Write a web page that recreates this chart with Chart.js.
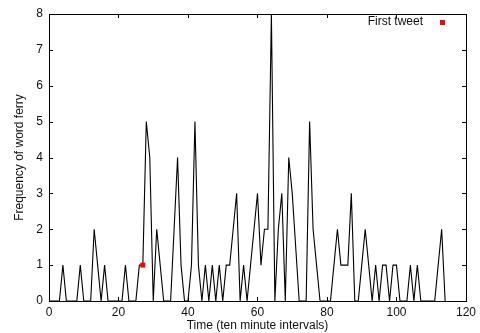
<!DOCTYPE html>
<html>
<head>
<meta charset="utf-8">
<script src="https://cdn.jsdelivr.net/npm/chart.js@4/dist/chart.umd.min.js"></script>
<style>
html,body{margin:0;padding:0;background:#fff;}
canvas{display:block;}
</style>
</head>
<body>
<canvas id="c" width="480" height="333"></canvas>
<script>
// ---- data ----
const timeSteps = [
  0,1,2,3,4,5,6,7,8,9,10,11,12,13,14,15,16,17,18,19,
  20,21,22,23,24,25,26,27,28,29,30,31,32,33,34,35,36,37,38,39,
  40,41,42,43,44,45,46,47,48,49,50,51,52,53,54,55,56,57,58,59,
  60,61,62,63,64,65,66,67,68,69,70,71,72,73,74,75,76,77,78,79,
  80,81,82,83,84,85,86,87,88,89,90,91,92,93,94,95,96,97,98,99,
  100,101,102,103,104,105,106,107,108,109,110,111,112,113,114
];
const ferryFrequency = [
  0,0,0,0,1,0,0,0,0,1,0,0,0,2,1,0,1,0,0,0,
  0,0,1,0,0,0,1,1,5,4,0,2,1,0,0,0,2,4,1,0,
  0,1,5,1,0,1,0,1,0,1,0,1,1,2,3,0,1,0,1,2,
  3,1,2,2,8,0,2,3,0,4,3,1.5,0,0,0,5,2,1,0,0,
  0,0,1,2,1,1,1,3,0,0,1,2,1,0,1,0,1,1,0,1,
  1,0,0,0,1,0,1,0,0,0,0,0,1,2,0
];
const firstTweetTime = [27];
const firstTweetFreq = [1];
const xTickValues = [0,20,40,60,80,100,120];
const yTickValues = [0,1,2,3,4,5,6,7,8];
const seriesLabel = 'Frequency of word ferry';
const markerLabel = 'First tweet';

const FONT = 'Liberation Sans, Arial, Helvetica, sans-serif';
const TEXT = '#111';

const lineData = timeSteps.map((t, i) => ({x: t, y: ferryFrequency[i]}));
const markerData = firstTweetTime.map((t, i) => ({x: t, y: firstTweetFreq[i]}));

// frame with inward ticks on all four sides
const framePlugin = {
  id: 'frame',
  afterDraw(chart) {
    const {ctx, chartArea: a, scales: {x, y}} = chart;
    const L = 4;
    ctx.save();
    ctx.strokeStyle = '#000';
    ctx.lineWidth = 1;
    ctx.beginPath();
    xTickValues.forEach(v => {
      const px = Math.round(x.getPixelForValue(v)) + 0.5;
      ctx.moveTo(px, a.bottom); ctx.lineTo(px, a.bottom - L);
      ctx.moveTo(px, a.top); ctx.lineTo(px, a.top + L);
    });
    yTickValues.forEach(v => {
      const py = Math.round(y.getPixelForValue(v)) + 0.5;
      ctx.moveTo(a.left, py); ctx.lineTo(a.left + L, py);
      ctx.moveTo(a.right, py); ctx.lineTo(a.right - L, py);
    });
    ctx.stroke();
    ctx.strokeRect(Math.round(a.left) + 0.5, Math.round(a.top) + 0.5,
                   Math.round(a.right - a.left), Math.round(a.bottom - a.top));
    ctx.restore();
  }
};

// gnuplot-style key: text then sample, in the top-right of the plot
const keyPlugin = {
  id: 'gkey',
  afterDraw(chart) {
    const {ctx, chartArea: a} = chart;
    const ds = chart.data.datasets[1];
    ctx.save();
    ctx.font = '12px ' + FONT;
    ctx.fillStyle = TEXT;
    ctx.textAlign = 'right';
    ctx.textBaseline = 'middle';
    const ky = a.top + 8;
    ctx.fillText(ds.label, a.right - 43, ky);
    ctx.fillStyle = ds.backgroundColor;
    ctx.fillRect(a.right - 26, ky - 2, 5, 5);
    ctx.restore();
  }
};

new Chart(document.getElementById('c'), {
  type: 'line',
  data: {
    datasets: [
      {
        label: seriesLabel,
        data: lineData,
        borderColor: '#000',
        borderWidth: 1.1,
        pointRadius: 0,
        tension: 0,
        fill: false,
        order: 2
      },
      {
        type: 'scatter',
        label: markerLabel,
        data: markerData,
        backgroundColor: '#ff0000',
        borderColor: '#ff0000',
        borderWidth: 0,
        pointStyle: 'rect',
        pointRadius: 3.5,
        order: 1
      }
    ]
  },
  options: {
    responsive: false,
    animation: false,
    devicePixelRatio: 1,
    layout: {padding: {left: 0, right: 13, top: 14, bottom: 0}},
    plugins: {
      legend: {display: false},
      tooltip: {enabled: false}
    },
    scales: {
      x: {
        type: 'linear',
        min: 0, max: 120,
        afterBuildTicks: s => { s.ticks = xTickValues.map(v => ({value: v})); },
        afterFit: s => { s.height = 32; },
        grid: {display: false, drawTicks: false},
        border: {display: false},
        ticks: {padding: 4, color: TEXT, font: {family: FONT, size: 12}, maxRotation: 0},
        title: {display: true, text: 'Time (ten minute intervals)', color: TEXT,
                font: {family: FONT, size: 12}, padding: {top: 0, bottom: 0.5}}
      },
      y: {
        type: 'linear',
        min: 0, max: 8,
        afterBuildTicks: s => { s.ticks = yTickValues.map(v => ({value: v})); },
        afterFit: s => { s.width = 49; },
        grid: {display: false, drawTicks: false},
        border: {display: false},
        ticks: {padding: 6, color: TEXT, font: {family: FONT, size: 12}},
        title: {display: true, text: seriesLabel, color: TEXT,
                font: {family: FONT, size: 12}, padding: {top: 12, bottom: 0}}
      }
    }
  },
  plugins: [framePlugin, keyPlugin]
});
</script>
</body>
</html>
